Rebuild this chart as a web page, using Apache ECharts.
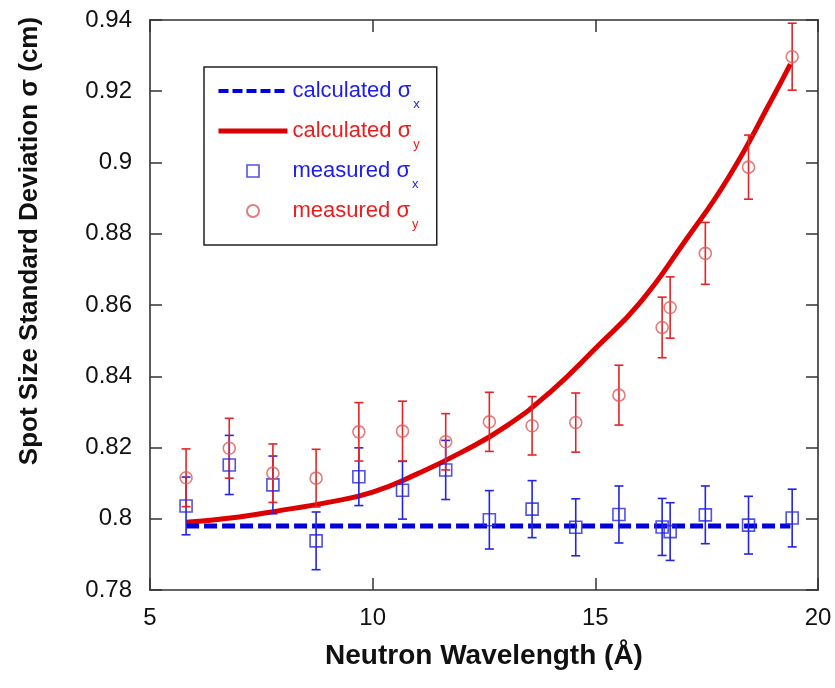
<!DOCTYPE html>
<html>
<head>
<meta charset="utf-8">
<script src="https://cdn.jsdelivr.net/npm/echarts@6/dist/echarts.min.js"></script>
<style>
html,body{margin:0;padding:0;background:#fff;}
#chart{width:835px;height:688px;}
</style>
</head>
<body>
<div id="chart"></div>
<script>
// ---- Data ----
var wavelength = [5.81, 6.78, 7.76, 8.73, 9.69, 10.67, 11.64, 12.62, 13.58, 14.56, 15.53, 16.50, 16.68, 17.47, 18.44, 19.42];
var measuredSigmaY = [0.8115, 0.8198, 0.8128, 0.8114, 0.8244, 0.8246, 0.8216, 0.8272, 0.8261, 0.8270, 0.8347, 0.8537, 0.8593, 0.8745, 0.8987, 0.9297];
var errSigmaY = [0.0081, 0.0084, 0.0082, 0.0081, 0.0082, 0.0084, 0.0079, 0.0083, 0.0082, 0.0083, 0.0084, 0.0085, 0.0086, 0.0087, 0.0090, 0.0094];
var measuredSigmaX = [0.8036, 0.8151, 0.8095, 0.7938, 0.8118, 0.8080, 0.8137, 0.7997, 0.8027, 0.7976, 0.8012, 0.7977, 0.7964, 0.8011, 0.7982, 0.8002];
var errSigmaX = [0.0081, 0.0083, 0.0081, 0.0081, 0.0081, 0.0081, 0.0083, 0.0082, 0.0080, 0.0080, 0.0080, 0.0080, 0.0081, 0.0081, 0.0081, 0.0081];

var calcWaveX = [5.81, 19.38];
var calcSigmaX = [0.798, 0.798];

var curveWave = [5.81, 7.0, 8.0, 9.0, 10.0, 11.0, 12.0, 13.0, 14.0, 15.0, 16.0, 17.0, 18.0, 19.0, 19.38];
var curveSigmaY = [0.7990, 0.8005, 0.8025, 0.8046, 0.8075, 0.8126, 0.8187, 0.8260, 0.8357, 0.8478, 0.8606, 0.8777, 0.8960, 0.9186, 0.9276];

var xTicks = [5, 10, 15, 20];
var yTicks = [0.78, 0.80, 0.82, 0.84, 0.86, 0.88, 0.90, 0.92, 0.94];

// ---- Styling ----
var FONT = 'Liberation Sans, Arial, sans-serif';
var BLUE_LINE = '#0000d8';
var RED_LINE = '#dd0000';
var BLUE_MARK = '#2626e0';
var RED_MARK = '#e05a5a';
var BLUE_ERR = '#2424e6';
var RED_ERR = '#e42424';
var BLUE_TEXT = '#1c1cf0';
var RED_TEXT = '#ee1c1c';
var AXIS_COLOR = '#333';
var SQUARE_PATH = 'path://M0,0H10V10H0Z';

function zip(a, b) { return a.map(function (v, i) { return [v, b[i]]; }); }
function errData(ys, es) {
  return wavelength.map(function (w, i) { return [w, ys[i] - es[i], ys[i] + es[i]]; });
}
function errRenderer(color) {
  return function (params, api) {
    var x = api.value(0), lo = api.value(1), hi = api.value(2);
    var p1 = api.coord([x, hi]);
    var p2 = api.coord([x, lo]);
    var hw = 4.5;
    var style = { stroke: color, lineWidth: 1.6 };
    return {
      type: 'group',
      children: [
        { type: 'line', shape: { x1: p1[0], y1: p1[1], x2: p2[0], y2: p2[1] }, style: style },
        { type: 'line', shape: { x1: p1[0] - hw, y1: p1[1], x2: p1[0] + hw, y2: p1[1] }, style: style },
        { type: 'line', shape: { x1: p2[0] - hw, y1: p2[1], x2: p2[0] + hw, y2: p2[1] }, style: style }
      ]
    };
  };
}

var xMin = xTicks[0], xMax = xTicks[xTicks.length - 1], xInt = xTicks[1] - xTicks[0];
var yMin = yTicks[0], yMax = yTicks[yTicks.length - 1], yInt = 0.02;

var tickStyle = { show: true, inside: true, length: 12, lineStyle: { color: AXIS_COLOR, width: 1.5 } };
var lineStyleAxis = { show: true, onZero: false, lineStyle: { color: AXIS_COLOR, width: 1.6 } };

var names = {
  cx: 'calculated σx', cy: 'calculated σy', mx: 'measured σx', my: 'measured σy'
};

var chart = echarts.init(document.getElementById('chart'), null, { renderer: 'canvas' });
chart.setOption({
  backgroundColor: '#fff',
  animation: false,
  grid: { left: 150, right: 17, top: 20, bottom: 98, containLabel: false },
  xAxis: [
    {
      type: 'value', min: xMin, max: xMax, interval: xInt, position: 'bottom',
      name: 'Neutron Wavelength (Å)', nameLocation: 'middle', nameGap: 52,
      nameTextStyle: { fontFamily: FONT, fontWeight: 'bold', fontSize: 28, color: '#111' },
      axisLine: lineStyleAxis, axisTick: tickStyle, splitLine: { show: false },
      axisLabel: { fontFamily: FONT, fontSize: 24, color: '#111', margin: 16 }
    },
    {
      type: 'value', min: xMin, max: xMax, interval: xInt, position: 'top',
      axisLine: lineStyleAxis, axisTick: tickStyle, splitLine: { show: false },
      axisLabel: { show: false }
    }
  ],
  yAxis: [
    {
      type: 'value', min: yMin, max: yMax, interval: yInt, position: 'left',
      axisLine: lineStyleAxis, axisTick: tickStyle, splitLine: { show: false },
      axisLabel: { fontFamily: FONT, fontSize: 24, color: '#111', margin: 18 }
    },
    {
      type: 'value', min: yMin, max: yMax, interval: yInt, position: 'right',
      axisLine: lineStyleAxis, axisTick: tickStyle, splitLine: { show: false },
      axisLabel: { show: false }
    }
  ],
  graphic: [
    {
      type: 'text', x: 30, y: 241, rotation: Math.PI / 2,
      style: {
        text: 'Spot Size Standard Deviation σ (cm)',
        font: 'bold 26px ' + FONT, fill: '#111',
        textAlign: 'center', textVerticalAlign: 'middle'
      }
    }
  ],
  legend: {
    show: true, orient: 'vertical', left: 204, top: 67,
    padding: [4, 17, 14, 12],
    borderColor: '#222', borderWidth: 1.5,
    itemWidth: 69, itemHeight: 12, itemGap: 0,
    symbolKeepAspect: true,
    data: [
      { name: names.cx, lineStyle: { width: 4, type: [10, 4], color: BLUE_LINE } },
      { name: names.cy, lineStyle: { width: 5, color: RED_LINE } },
      { name: names.mx, icon: SQUARE_PATH, itemStyle: { color: 'rgba(255,255,255,0)', borderColor: BLUE_MARK, borderWidth: 1.6 } },
      { name: names.my }
    ],
    formatter: function (name) {
      if (name === names.cx) return '{ab|calculated σ}{sb|x}';
      if (name === names.cy) return '{ar|calculated σ}{sr|y}';
      if (name === names.mx) return '{ab|measured σ}{sb|x}';
      return '{ar|measured σ}{sr|y}';
    },
    textStyle: {
      fontFamily: FONT, fontSize: 22, lineHeight: 40,
      rich: {
        ab: { fontFamily: FONT, fontSize: 22, color: BLUE_TEXT, lineHeight: 40 },
        ar: { fontFamily: FONT, fontSize: 22, color: RED_TEXT, lineHeight: 40 },
        sb: { fontFamily: FONT, fontSize: 13, color: BLUE_TEXT, lineHeight: 4, verticalAlign: 'bottom', padding: [0, 0, 0, 2] },
        sr: { fontFamily: FONT, fontSize: 13, color: RED_TEXT, lineHeight: 4, verticalAlign: 'bottom', padding: [0, 0, 0, 2] }
      }
    }
  },
  series: [
    {
      name: names.cx, type: 'line', xAxisIndex: 0, yAxisIndex: 0,
      data: zip(calcWaveX, calcSigmaX), symbol: 'rect', showSymbol: false, symbolSize: 0, z: 3,
      lineStyle: { color: BLUE_LINE, width: 5, type: [13, 5] },
      itemStyle: { color: 'rgba(0,0,0,0)', borderWidth: 0 }
    },
    {
      name: names.cy, type: 'line', xAxisIndex: 0, yAxisIndex: 0,
      data: zip(curveWave, curveSigmaY), symbol: 'rect', showSymbol: false, symbolSize: 0,
      smooth: 0.5, z: 2,
      lineStyle: { color: RED_LINE, width: 5 },
      itemStyle: { color: 'rgba(0,0,0,0)', borderWidth: 0 }
    },
    {
      name: 'errX', type: 'custom', xAxisIndex: 0, yAxisIndex: 0,
      data: errData(measuredSigmaX, errSigmaX), encode: { x: 0, y: [1, 2] },
      renderItem: errRenderer(BLUE_ERR), z: 4, silent: true
    },
    {
      name: 'errY', type: 'custom', xAxisIndex: 0, yAxisIndex: 0,
      data: errData(measuredSigmaY, errSigmaY), encode: { x: 0, y: [1, 2] },
      renderItem: errRenderer(RED_ERR), z: 4, silent: true
    },
    {
      name: names.mx, type: 'scatter', xAxisIndex: 0, yAxisIndex: 0,
      data: zip(wavelength, measuredSigmaX), symbol: 'rect', symbolSize: 12, z: 5,
      itemStyle: { color: 'rgba(255,255,255,0)', borderColor: BLUE_MARK, borderWidth: 1.6 }
    },
    {
      name: names.my, type: 'scatter', xAxisIndex: 0, yAxisIndex: 0,
      data: zip(wavelength, measuredSigmaY), symbol: 'circle', symbolSize: 12, z: 5,
      itemStyle: { color: 'rgba(255,255,255,0)', borderColor: RED_MARK, borderWidth: 1.6 }
    }
  ]
});
</script>
</body>
</html>
